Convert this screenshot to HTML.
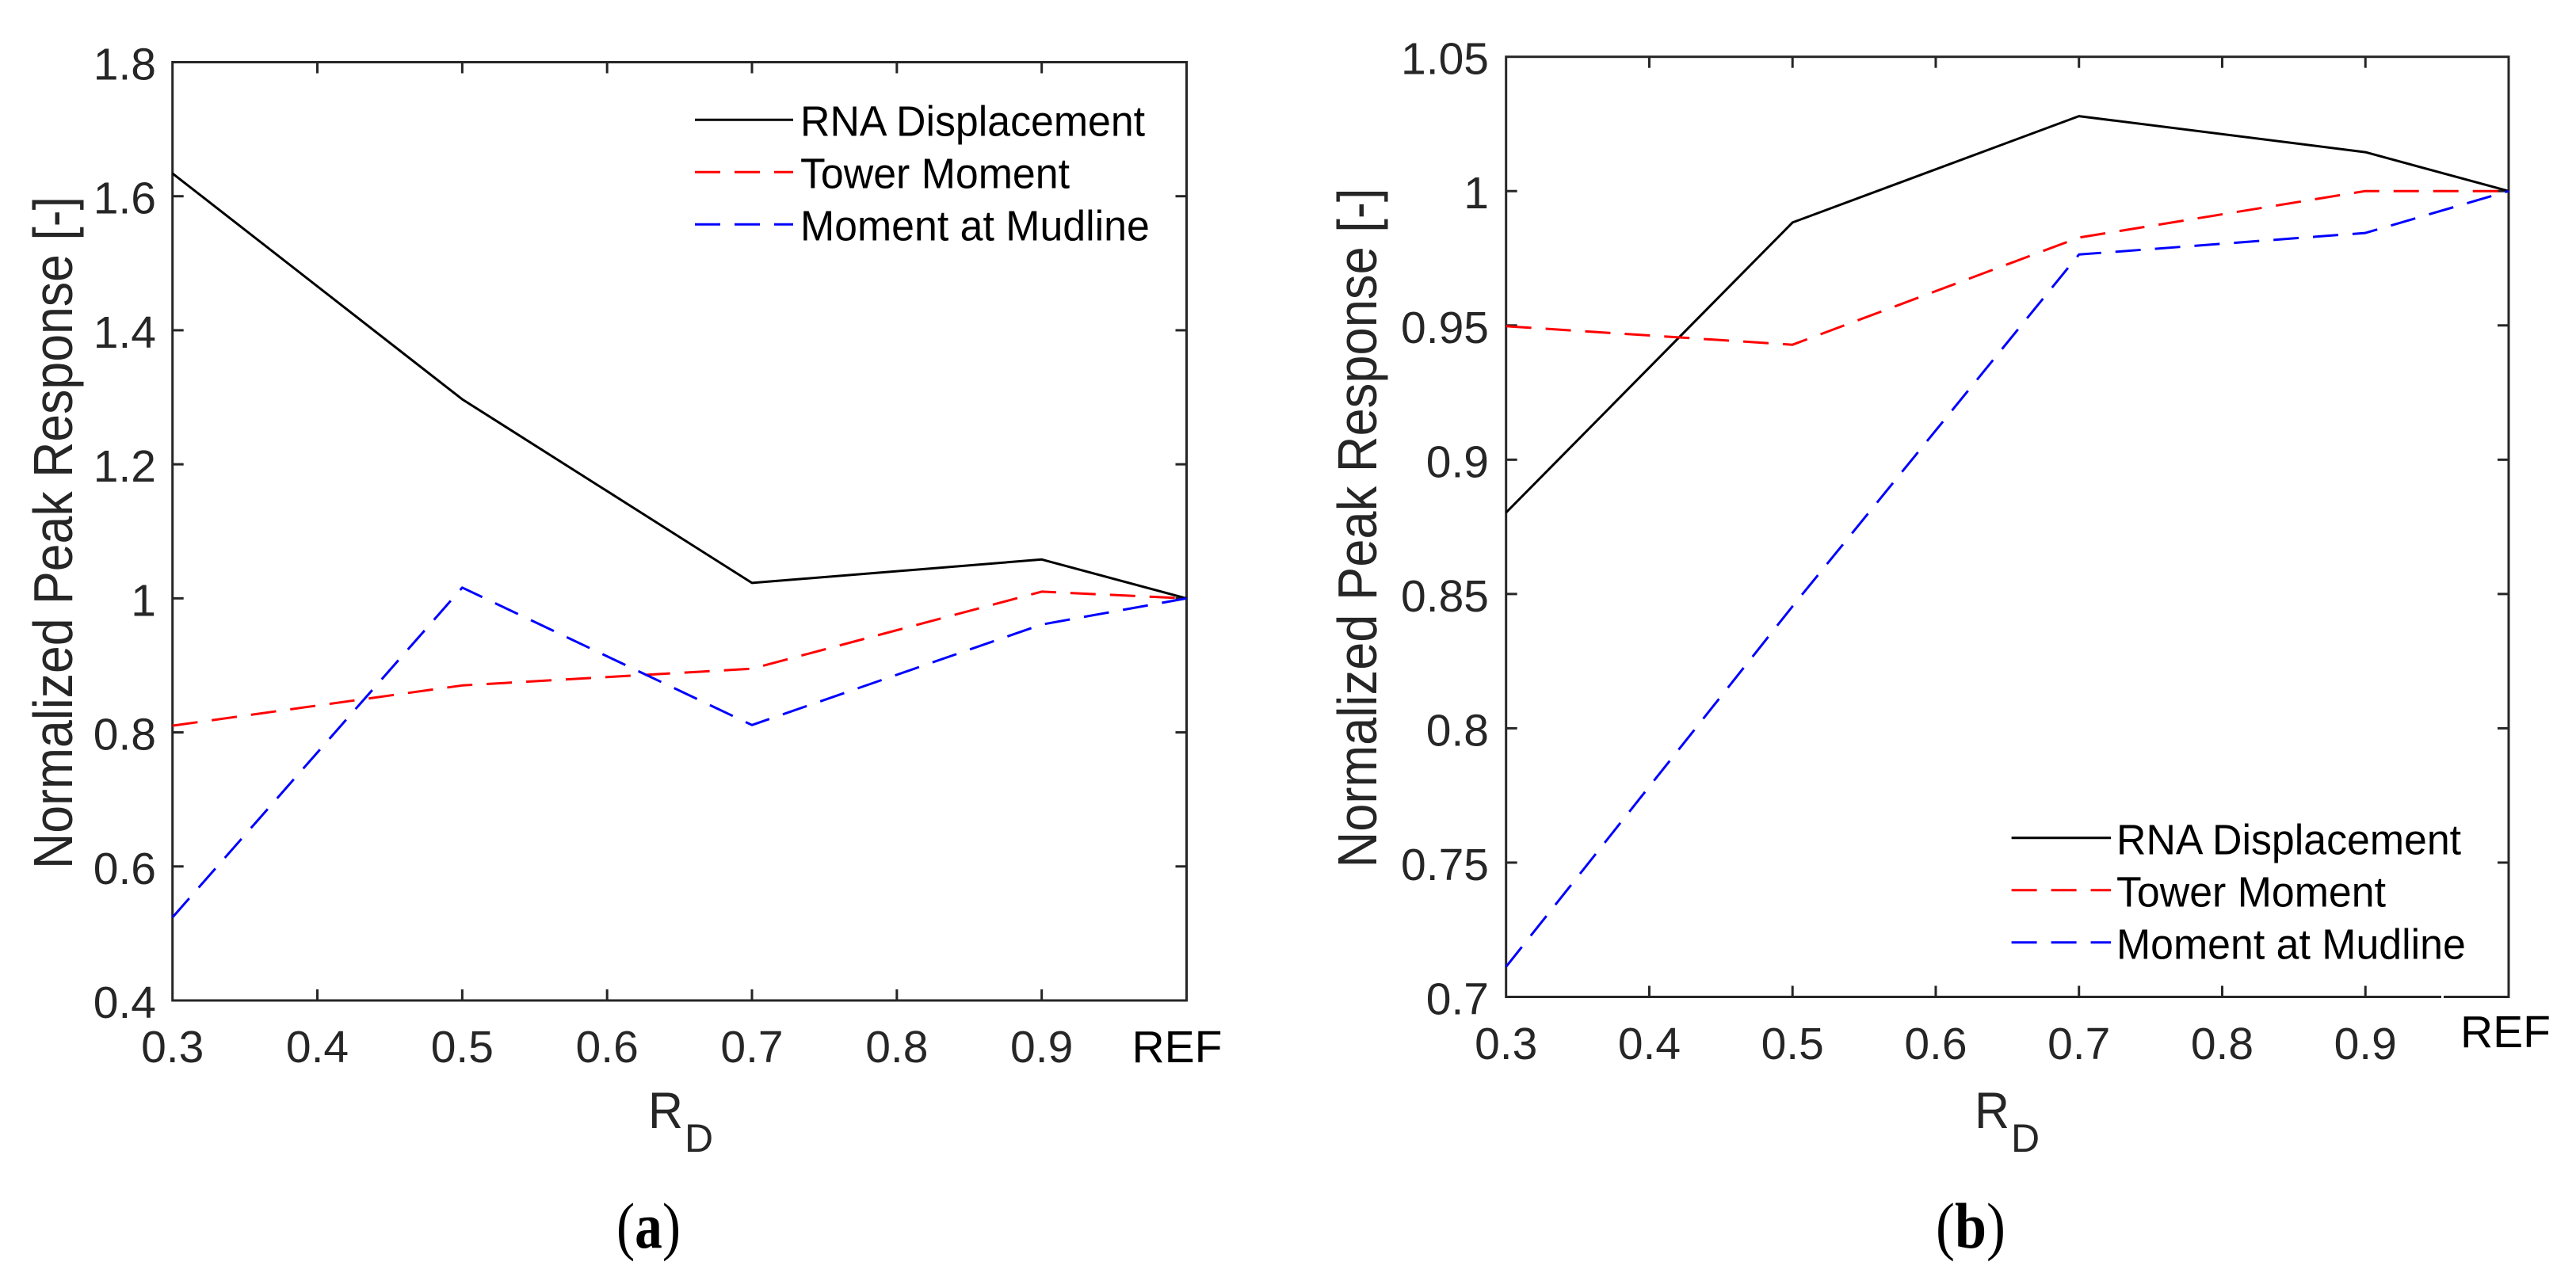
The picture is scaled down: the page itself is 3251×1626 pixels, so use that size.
<!DOCTYPE html>
<html lang="en">
<head>
<meta charset="utf-8">
<title>Normalized Peak Response vs R_D</title>
<style>
html,body{margin:0;padding:0;background:#fff;}
svg{display:block;}
text{font-family:"Liberation Sans",sans-serif;}
.cap{font-family:"Liberation Serif",serif;}
</style>
</head>
<body>
<svg id="figure" xmlns="http://www.w3.org/2000/svg" width="3251" height="1626" viewBox="0 0 3251 1626">
<rect width="3251" height="1626" fill="#fff"/>
<text class="cap" x="818.5" y="1575" font-size="82" text-anchor="middle" fill="#000" textLength="81" lengthAdjust="spacingAndGlyphs">(<tspan font-weight="bold">a</tspan>)</text>
<text class="cap" x="2487" y="1575" font-size="82" text-anchor="middle" fill="#000" textLength="88" lengthAdjust="spacingAndGlyphs">(<tspan font-weight="bold">b</tspan>)</text>
</svg>
<script>
const xTicks = [0.3, 0.4, 0.5, 0.6, 0.7, 0.8, 0.9, 1.0];
const xTickLabels = ['0.3', '0.4', '0.5', '0.6', '0.7', '0.8', '0.9', 'REF'];
const categories = [0.3, 0.5, 0.7, 0.9, 1.0];
const seriesNames = ['RNA Displacement', 'Tower Moment', 'Moment at Mudline'];

const aYTicks = [0.4, 0.6, 0.8, 1.0, 1.2, 1.4, 1.6, 1.8];
const aYTickLabels = ['0.4', '0.6', '0.8', '1', '1.2', '1.4', '1.6', '1.8'];
const aRna = [1.634, 1.297, 1.023, 1.058, 1.0];
const aTower = [0.810, 0.870, 0.895, 1.010, 1.0];
const aMudline = [0.524, 1.016, 0.811, 0.961, 1.0];

const bYTicks = [0.7, 0.75, 0.8, 0.85, 0.9, 0.95, 1.0, 1.05];
const bYTickLabels = ['0.7', '0.75', '0.8', '0.85', '0.9', '0.95', '1', '1.05'];
const bRna = [0.8803, 0.9883, 1.0279, 1.0145, 1.0];
const bTower = [0.9497, 0.9428, 0.9827, 1.0, 1.0];
const bMudline = [0.7112, 0.8454, 0.9764, 0.9844, 1.0];

const NS = 'http://www.w3.org/2000/svg';
const svg = document.getElementById('figure');
const AXIS = '#262626';

function make(tag, attrs, parent) {
  const el = document.createElementNS(NS, tag);
  for (const k in attrs) el.setAttribute(k, attrs[k]);
  parent.appendChild(el);
  return el;
}

function drawPanel(id, geo, yTicks, yLabels, yMin, yMax, series) {
  const g = make('g', {}, svg);
  
  
  const sx = v => geo.left + (v - 0.3) / 0.7 * (geo.right - geo.left);
  const sy = v => geo.bottom - (v - yMin) / (yMax - yMin) * (geo.bottom - geo.top);

  const box = make('rect', {x: geo.left, y: geo.top, width: geo.right - geo.left, height: geo.bottom - geo.top, fill: 'none', stroke: AXIS, 'stroke-width': 3}, g);
  
  

  xTicks.forEach((t, i) => {
    const x = sx(t);
    if (i > 0 && i < xTicks.length - 1) {
      const t1 = make('line', {x1: x, x2: x, y1: geo.bottom, y2: geo.bottom - 14, stroke: AXIS, 'stroke-width': 3}, g);
      
      
      const t2 = make('line', {x1: x, x2: x, y1: geo.top, y2: geo.top + 14, stroke: AXIS, 'stroke-width': 3}, g);
      
      
    }
    const isRef = xTickLabels[i] === 'REF';
    const lab = make('text', {
      x: isRef ? x + geo.refDx : x,
      y: isRef ? geo.refBaseline : geo.xBaseline,
      'font-size': 57, 'text-anchor': 'middle', fill: isRef ? '#000' : AXIS
    }, g);
    lab.textContent = xTickLabels[i];
    
    
  });

  yTicks.forEach((t, i) => {
    const y = sy(t);
    if (i > 0 && i < yTicks.length - 1) {
      const t1 = make('line', {x1: geo.left, x2: geo.left + 14, y1: y, y2: y, stroke: AXIS, 'stroke-width': 3}, g);
      
      
      const t2 = make('line', {x1: geo.right, x2: geo.right - 14, y1: y, y2: y, stroke: AXIS, 'stroke-width': 3}, g);
      
      
    }
    const lab = make('text', {x: geo.yLabelRight, y: y + 22, 'font-size': 57, 'text-anchor': 'end', fill: AXIS}, g);
    lab.textContent = yLabels[i];
    
    
  });

  series.forEach(s => {
    const pts = categories.map((c, i) => sx(c).toFixed(1) + ',' + sy(s.values[i]).toFixed(1)).join(' ');
    const attrs = {points: pts, fill: 'none', stroke: s.color, 'stroke-width': 3, 'stroke-linejoin': 'round'};
    if (s.dash) attrs['stroke-dasharray'] = '32 18';
    const line = make('polyline', attrs, g);
    
    
  });

  series.forEach((s, i) => {
    const ly = geo.legendLineY + i * 66;
    const attrs = {x1: geo.legendX1, x2: geo.legendX2, y1: ly, y2: ly, stroke: s.color, 'stroke-width': 3};
    if (s.dash) attrs['stroke-dasharray'] = '32 18';
    const swatch = make('line', attrs, g);
    
    
    const txt = make('text', {x: geo.legendTextX, y: ly + geo.legendBaselineDy, 'font-size': 54, fill: '#000'}, g);
    txt.textContent = seriesNames[i];
    txt.setAttribute('textLength', (txt.getComputedTextLength() * 0.96).toFixed(1));
    txt.setAttribute('lengthAdjust', 'spacingAndGlyphs');
    
    
  });

  const yt = make('text', {
    x: 0, y: 0, 'font-size': 70, 'text-anchor': 'middle', fill: AXIS,
    textLength: geo.yTitleLength, lengthAdjust: 'spacingAndGlyphs',
    transform: 'translate(' + geo.yTitleX + ' ' + geo.yTitleY + ') rotate(-90)'
  }, g);
  yt.textContent = 'Normalized Peak Response [-]';
  
  

  const r = make('text', {x: geo.rX, y: 1424, 'font-size': 65, 'textLength': 44, lengthAdjust: 'spacingAndGlyphs', fill: AXIS}, g);
  r.textContent = 'R';
  
  
  const d = make('text', {x: geo.rX + 46, y: 1454, 'font-size': 50, fill: AXIS}, g);
  d.textContent = 'D';
  
  
}

drawPanel('a', {
  left: 217.7, right: 1497.5, top: 78.5, bottom: 1263,
  xBaseline: 1341, refBaseline: 1341, refDx: -12, yLabelRight: 197,
  legendX1: 877, legendX2: 1001, legendLineY: 151.3, legendTextX: 1010, legendBaselineDy: 20,
  yTitleX: 91, yTitleY: 672.5, yTitleLength: 849, rX: 818
}, aYTicks, aYTickLabels, 0.4, 1.8, [
  {key: 'rna-displacement', values: aRna, color: '#000', dash: false},
  {key: 'tower-moment', values: aTower, color: '#f00', dash: true},
  {key: 'moment-at-mudline', values: aMudline, color: '#00f', dash: true}
]);

drawPanel('b', {
  left: 1900.7, right: 3166, top: 71.7, bottom: 1258.5,
  xBaseline: 1337, refBaseline: 1322, refDx: -4, yLabelRight: 1879,
  legendX1: 2538.6, legendX2: 2664, legendLineY: 1057.7, legendTextX: 2671, legendBaselineDy: 21,
  yTitleX: 1737, yTitleY: 666.5, yTitleLength: 858, rX: 2492
}, bYTicks, bYTickLabels, 0.7, 1.05, [
  {key: 'rna-displacement', values: bRna, color: '#000', dash: false},
  {key: 'tower-moment', values: bTower, color: '#f00', dash: true},
  {key: 'moment-at-mudline', values: bMudline, color: '#00f', dash: true}
]);

const axisGap = make('rect', {x: 3081, y: 1255, width: 3, height: 6, fill: '#fff'}, svg);


</script>
</body>
</html>
